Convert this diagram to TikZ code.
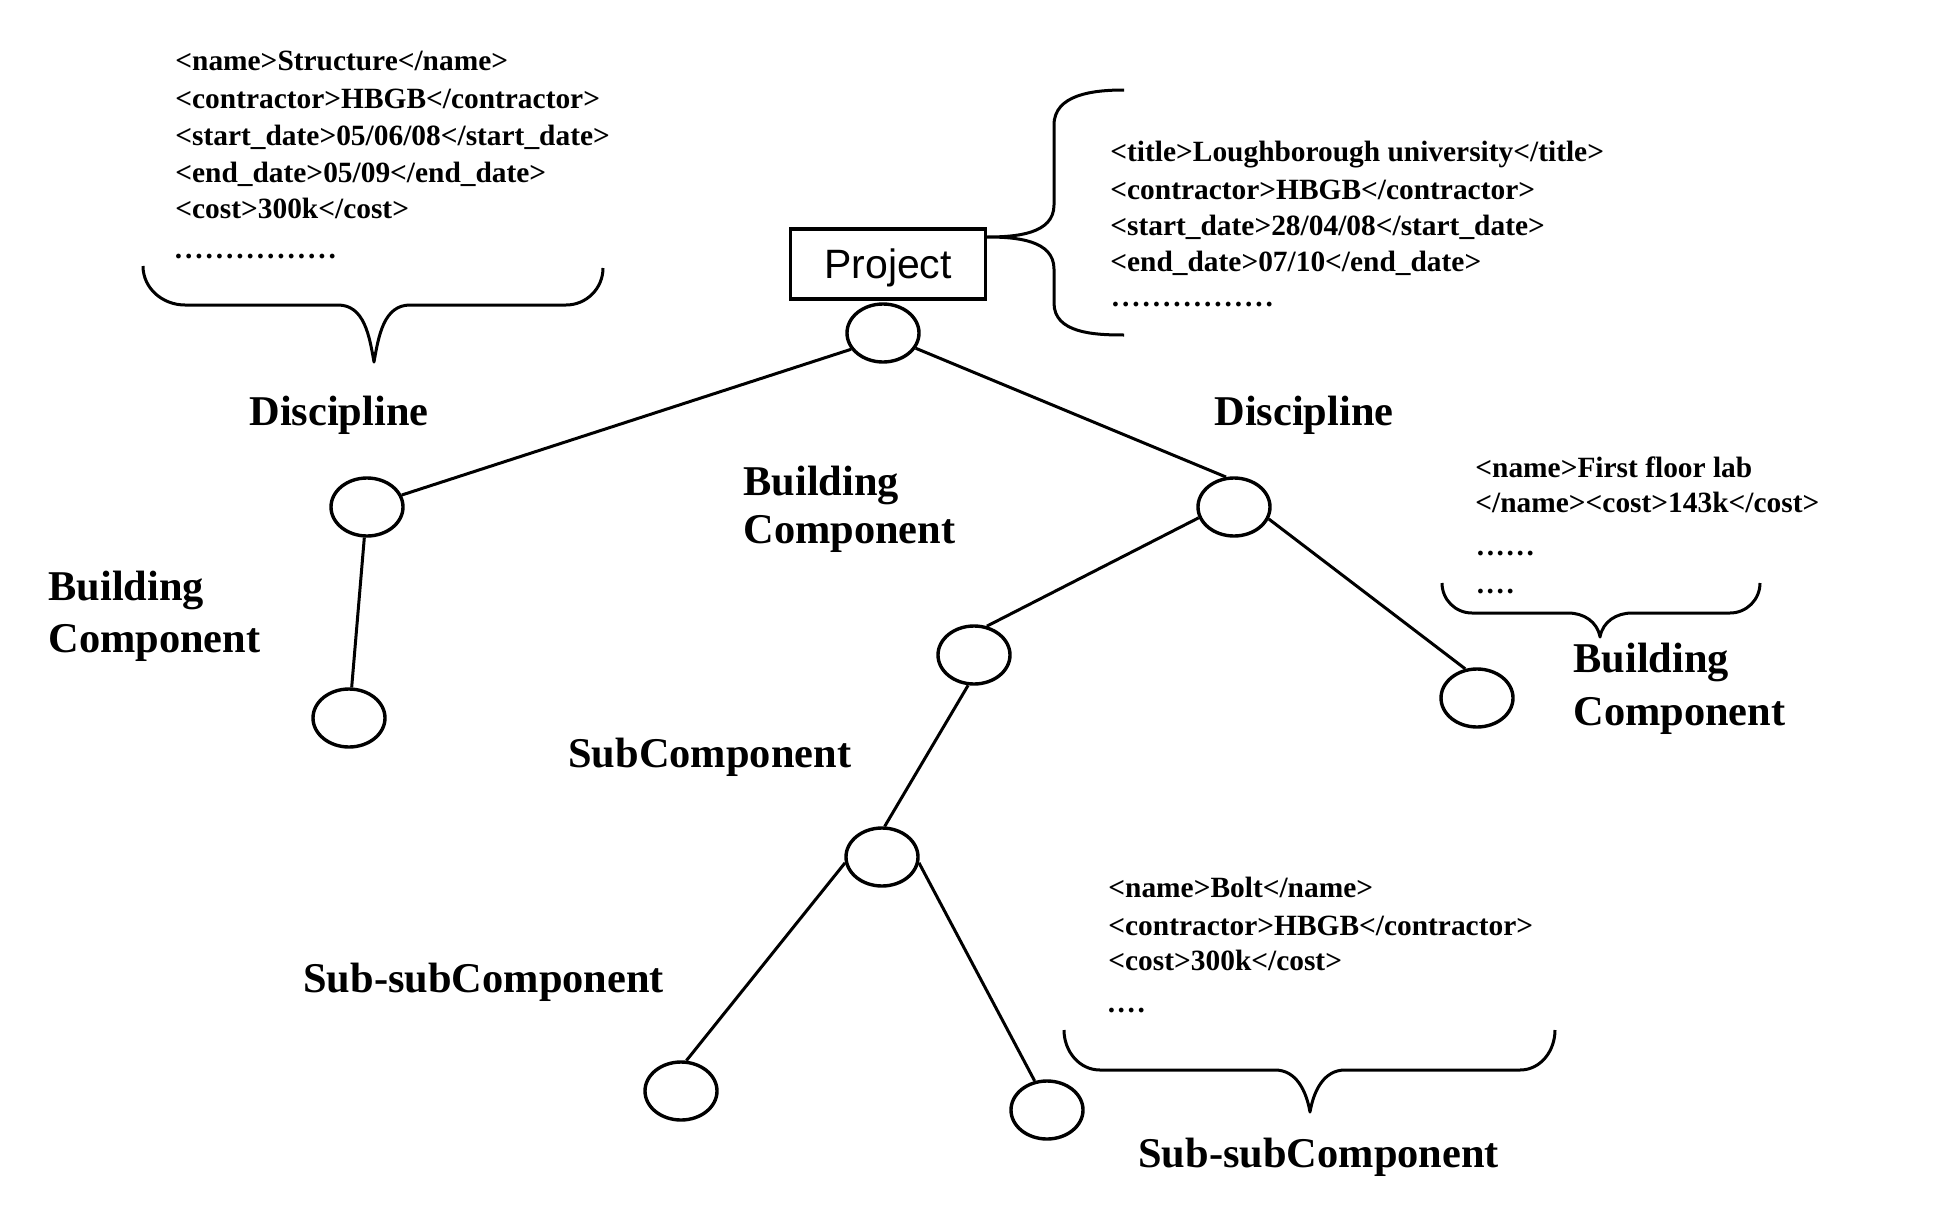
\documentclass[tikz,border=0pt]{standalone}
\usepackage{fontspec}
\setmainfont{Liberation Serif}
\newfontfamily\projsans{Liberation Sans}
\usetikzlibrary{shapes.geometric}
\newcommand\xmlf{\fontsize{14.7}{18}\selectfont\bfseries}
\newcommand\lblf{\fontsize{21.2}{26}\selectfont\bfseries}
\newcommand\dotrow[2]{\hbox to #1{\xleaders\hbox to #2{\hss.\hss}\hfill}}
\begin{document}
\begin{tikzpicture}[x=0.5pt,y=-0.5pt,
  xml/.style={anchor=base west, inner sep=0pt, font=\xmlf},
  lbl/.style={anchor=base west, inner sep=0pt, font=\lblf},
  ell/.style={ellipse, draw, line width=1.7pt, minimum width=36pt, minimum height=29pt, inner sep=0pt},
  edge/.style={line width=1.5pt},
  brace/.style={line width=1.5pt, line join=round},
  projbox/.style={draw, line width=1.6pt, minimum width=97.5pt, minimum height=35pt, inner sep=0pt, text depth=0pt, font=\projsans\fontsize{20.5}{24}\selectfont}]
\useasboundingbox (0,0) rectangle (1933,1215);
\fill[white] (0,0) rectangle (1933,1215);

% tree nodes
\node[projbox] (proj) at (888,264) {Project};
\node[ell] (top) at (883,333) {};
\node[ell] (ld) at (367,507) {};
\node[ell] (lb) at (349,718) {};
\node[ell] (rd) at (1234,507) {};
\node[ell] (sc) at (974,655) {};
\node[ell] (rb) at (1477,698) {};
\node[ell] (ss) at (882,857) {};
\node[ell] (bl) at (681,1091) {};
\node[ell] (br) at (1047,1110) {};

% connectors
\draw[edge] (top.207) -- (ld.19);
\draw[edge] (top.335) -- (rd.105);
\draw[edge] (ld.265) -- (lb.85);
\draw[edge] (rd.197) -- (sc.66);
\draw[edge] (rd.341) -- (rb.112);
\draw[edge] (sc.259) -- (ss.85);
\draw[edge] (ss.189) -- (bl.80);
\draw[edge] (ss.351) -- (br.113);

% top-left XML block
\node[xml] (a1) at (175,70) {<name>Structure</name>};
\node[xml] (a2) at (175,108) {<contractor>HBGB</contractor>};
\node[xml] (a3) at (175,145) {<start\_date>05/06/08</start\_date>};
\node[xml] (a4) at (175,182) {<end\_date>05/09</end\_date>};
\node[xml] (a5) at (175,218) {<cost>300k</cost>};
\node[xml] (a6) at (173,258) {\dotrow{82pt}{5.1pt}};
\draw[brace] (143,266) to[out=-90,in=180] (185,305) -- (338,305) to[out=0,in=100] (374,362)
  to[out=80,in=180] (410,305) -- (566,305) to[out=0,in=-90] (603,268);

% project XML block
\node[xml] (b1) at (1110,161) {<title>Loughborough university</title>};
\node[xml] (b2) at (1110,199) {<contractor>HBGB</contractor>};
\node[xml] (b3) at (1110,235) {<start\_date>28/04/08</start\_date>};
\node[xml] (b4) at (1110,271) {<end\_date>07/10</end\_date>};
\node[xml] (b5) at (1110,306) {\dotrow{82pt}{5.1pt}};
\draw[brace] (1124,90) to[out=180,in=90] (1054,125) -- (1054,205) to[out=-90,in=0] (987,237)
  to[out=0,in=90] (1054,269) -- (1054,303) to[out=-90,in=180] (1124,335);

% right building component XML
\node[xml] (c1) at (1475,477) {<name>First floor lab};
\node[xml] (c2) at (1475,512) {</name><cost>143k</cost>};
\node[xml] (c3) at (1475,555) {\dotrow{30pt}{4.9pt}};
\node[xml] (c4) at (1475,593) {\dotrow{20pt}{4.9pt}};
\draw[brace] (1442,583) to[out=-90,in=180] (1472,613) -- (1568,613) to[out=0,in=100] (1600,637)
  to[out=80,in=180] (1632,613) -- (1730,613) to[out=0,in=-90] (1760,583);

% bolt XML
\node[xml] (d1) at (1108,897) {<name>Bolt</name>};
\node[xml] (d2) at (1108,935) {<contractor>HBGB</contractor>};
\node[xml] (d3) at (1108,970) {<cost>300k</cost>};
\node[xml] (d4) at (1106,1012) {\dotrow{20pt}{4.9pt}};
\draw[brace] (1064,1030) to[out=-90,in=180] (1100,1070) -- (1275,1070) to[out=0,in=100] (1310,1112)
  to[out=80,in=180] (1345,1070) -- (1520,1070) to[out=0,in=-90] (1555,1030);

% labels
\node[lbl] (l1) at (249,425) {Discipline};
\node[lbl] (l2) at (1214,425) {Discipline};
\node[lbl] (l3) at (743,495) {Building};
\node[lbl] (l4) at (743,543) {Component};
\node[lbl] (l5) at (48,600) {Building};
\node[lbl] (l6) at (48,652) {Component};
\node[lbl] (l7) at (1573,672) {Building};
\node[lbl] (l8) at (1573,725) {Component};
\node[lbl] (l9) at (568,767) {SubComponent};
\node[lbl] (l10) at (303,992) {Sub-subComponent};
\node[lbl] (l11) at (1138,1167) {Sub-subComponent};
\end{tikzpicture}
\end{document}
